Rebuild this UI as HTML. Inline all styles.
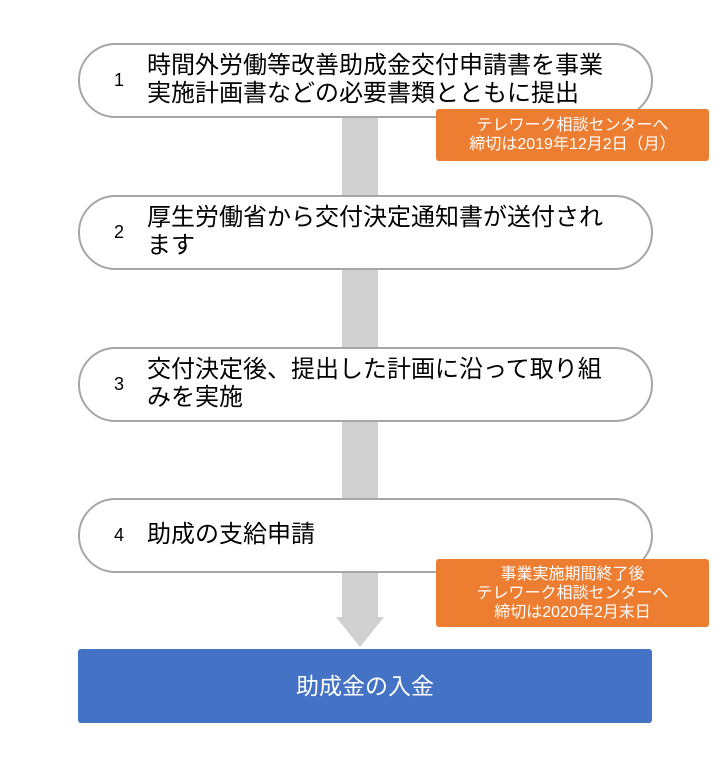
<!DOCTYPE html>
<html><head><meta charset="utf-8"><style>
body{margin:0;width:720px;height:765px;background:#fff;position:relative;font-family:"Liberation Sans","Noto Sans CJK JP",sans-serif;overflow:hidden}
.bar{position:absolute;left:342px;width:36px;background:#d0d0d0}
.pill{position:absolute;left:78px;width:571px;height:71px;border:2.5px solid #a6a6a6;border-radius:38px;background:#fff;box-sizing:content-box}
.num{position:absolute;left:34px;top:0;height:71px;line-height:71px;font-size:18px;color:#000}
.txt{position:absolute;left:67px;font-size:24px;line-height:28px;color:#000;white-space:nowrap}
.or{position:absolute;left:436px;width:273px;background:#ed7d31;border-radius:3px;color:#fff;text-align:center;font-size:16px;line-height:19px;box-sizing:border-box}
</style></head><body>
<div class="bar" style="top:110px;height:90px"></div>
<div class="bar" style="top:262px;height:90px"></div>
<div class="bar" style="top:414px;height:90px"></div>
<div class="bar" style="top:566px;height:52px"></div>
<svg style="position:absolute;left:0;top:0" width="720" height="765"><polygon points="336,617 384,617 360,647" fill="#d0d0d0"/></svg>
<div class="pill" style="top:43px"><div class="num">1</div><div class="txt" style="top:7px">時間外労働等改善助成金交付申請書を事業<br>実施計画書などの必要書類とともに提出</div></div>
<div class="pill" style="top:195px"><div class="num">2</div><div class="txt" style="top:7px">厚生労働省から交付決定通知書が送付され<br>ます</div></div>
<div class="pill" style="top:347px"><div class="num">3</div><div class="txt" style="top:7px">交付決定後、提出した計画に沿って取り組<br>みを実施</div></div>
<div class="pill" style="top:498px"><div class="num">4</div><div class="txt" style="top:21px">助成の支給申請</div></div>
<div class="or" style="top:109px;height:52px;padding-top:7px">テレワーク相談センターへ<br>締切は2019年12月2日（月）</div>
<div class="or" style="top:559px;height:68px;padding-top:6px">事業実施期間終了後<br>テレワーク相談センターへ<br>締切は2020年2月末日</div>
<div style="position:absolute;left:78px;top:649px;width:574px;height:74px;background:#4472c4;border-radius:3px;color:#fff;font-size:23px;line-height:74px;text-align:center">助成金の入金</div>
</body></html>
